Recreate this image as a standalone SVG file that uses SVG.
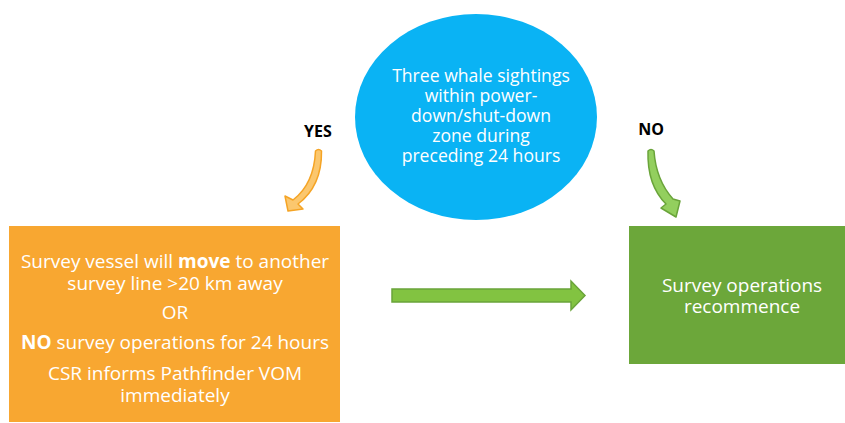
<svg xmlns="http://www.w3.org/2000/svg" width="845" height="423" viewBox="0 0 845 423">
<style>
.t{font-family:"Segoe UI","Open Sans","Noto Sans",sans-serif;fill:#fff;text-anchor:middle;font-size:19px}
.e{font-size:17.6px}
.lbl{font-family:"Segoe UI","Open Sans","Noto Sans",sans-serif;fill:#000;font-weight:bold;text-anchor:middle;font-size:16px}
</style>
<rect width="845" height="423" fill="#fff"/>
<g id="decision">
<ellipse cx="476" cy="117" rx="121" ry="103" fill="#0AB3F4"/>
<text class="t e"><tspan x="481" y="82">Three whale sightings</tspan><tspan x="481" y="102">within power-</tspan><tspan x="481" y="122">down/shut-down</tspan><tspan x="481" y="142">zone during</tspan><tspan x="481" y="162">preceding 24 hours</tspan></text>
</g>
<g id="yes-box">
<rect x="9" y="226" width="331" height="196" fill="#F8A731"/>
<text class="t"><tspan x="175" y="268">Survey vessel will <tspan font-weight="bold">move</tspan> to another</tspan><tspan x="175" y="290">survey line &gt;20 km away</tspan><tspan x="175" y="319">OR</tspan><tspan x="175" y="349"><tspan font-weight="bold">NO</tspan> survey operations for 24 hours</tspan><tspan x="175" y="380">CSR informs Pathfinder VOM</tspan><tspan x="175" y="402">immediately</tspan></text>
</g>
<g id="no-box">
<rect x="629" y="226" width="216" height="138" fill="#6CA73A"/>
<text class="t"><tspan x="742" y="292">Survey operations</tspan><tspan x="742" y="313">recommence</tspan></text>
</g>
<g id="connectors">
<path d="M315.5 151 Q314 184 293 200 L285 196 L288 211 L303 209 L298 204 Q322 186 321.5 151 Q318.5 148 315.5 151 Z" fill="#FBC76E" stroke="#F5A425" stroke-width="1.5" stroke-linejoin="round"/>
<path d="M648 151 Q647 185 666 204 L661 208 L676 217 L680 201 L673 199 Q656 180 654 151 Q651 148 648 151 Z" fill="#93CF5E" stroke="#6AA43A" stroke-width="1.5" stroke-linejoin="round"/>
<path d="M392 289 L571 289 L571 281 L585 295.5 L571 310 L571 302 L392 302 Z" fill="#82C341" stroke="#6AA43A" stroke-width="1.5"/>
<text class="lbl" x="318" y="137">YES</text>
<text class="lbl" x="651" y="135">NO</text>
</g>
</svg>
